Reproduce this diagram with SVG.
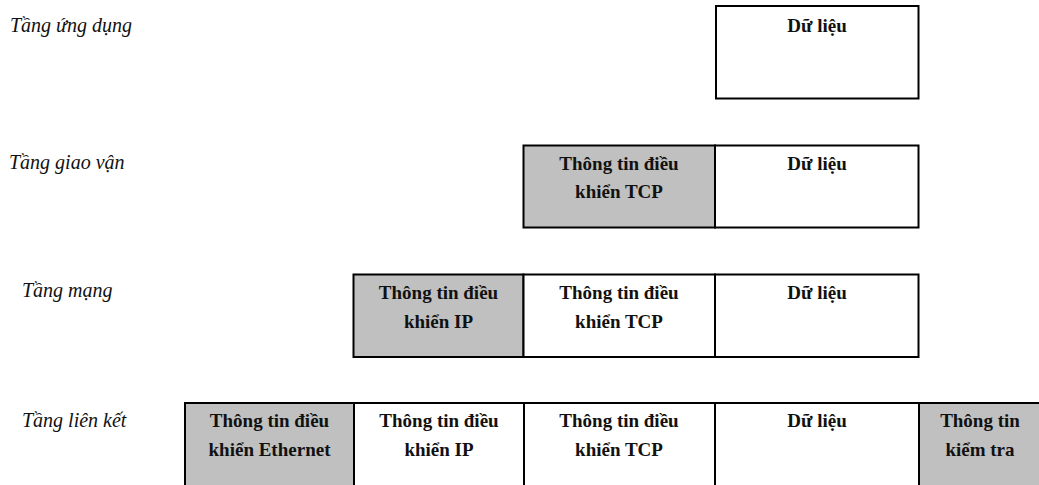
<svg xmlns="http://www.w3.org/2000/svg" width="1039" height="485" viewBox="0 0 1039 485">
  <style>
    text { font-family: 'Liberation Serif', 'DejaVu Serif', serif; }
    .layer { font-style: italic; font-size: 20px; fill: #111; }
    .cell { stroke: #000; stroke-width: 2; }
    .hdr { fill: #c0c0c0; }
    .dat { fill: #fff; }
    .lbl { font-weight: bold; font-size: 19px; fill: #111; text-anchor: middle; }
  </style>
  <rect width="1039" height="485" fill="#fff"/>

  <!-- layer names -->
  <g id="layer-labels">
    <text class="layer" x="10" y="32">Tầng ứng dụng</text>
    <text class="layer" x="9" y="169">Tầng giao vận</text>
    <text class="layer" x="22" y="297">Tầng mạng</text>
    <text class="layer" x="22" y="427">Tầng liên kết</text>
  </g>

  <!-- application layer -->
  <g id="app-data">
    <rect class="cell dat" x="716" y="6" width="202.5" height="92.5"/>
    <text class="lbl" x="817" y="32">Dữ liệu</text>
  </g>

  <!-- transport layer -->
  <g id="tcp-header">
    <rect class="cell hdr" x="523.5" y="145.5" width="191.5" height="82"/>
    <text class="lbl" x="619" y="170">Thông tin điều</text>
    <text class="lbl" x="619" y="198">khiển TCP</text>
  </g>
  <g id="tcp-data">
    <rect class="cell dat" x="715" y="145.5" width="203.5" height="82"/>
    <text class="lbl" x="817" y="170">Dữ liệu</text>
  </g>

  <!-- network layer -->
  <g id="ip-header">
    <rect class="cell hdr" x="353.5" y="274.5" width="170" height="82.5"/>
    <text class="lbl" x="438.5" y="299">Thông tin điều</text>
    <text class="lbl" x="438.5" y="328">khiển IP</text>
  </g>
  <g id="ip-tcp-header">
    <rect class="cell dat" x="523.5" y="274.5" width="191.5" height="82.5"/>
    <text class="lbl" x="619" y="299">Thông tin điều</text>
    <text class="lbl" x="619" y="328">khiển TCP</text>
  </g>
  <g id="ip-data">
    <rect class="cell dat" x="715" y="274.5" width="203.5" height="82.5"/>
    <text class="lbl" x="817" y="299">Dữ liệu</text>
  </g>

  <!-- link layer (frame runs past the bottom edge) -->
  <g id="eth-header">
    <rect class="hdr" x="185" y="403" width="169" height="82"/>
    <text class="lbl" x="269.5" y="427">Thông tin điều</text>
    <text class="lbl" x="269.5" y="456">khiển Ethernet</text>
  </g>
  <g id="eth-ip-header">
    <text class="lbl" x="439" y="427">Thông tin điều</text>
    <text class="lbl" x="439" y="456">khiển IP</text>
  </g>
  <g id="eth-tcp-header">
    <text class="lbl" x="619" y="427">Thông tin điều</text>
    <text class="lbl" x="619" y="456">khiển TCP</text>
  </g>
  <g id="eth-data">
    <text class="lbl" x="817" y="427">Dữ liệu</text>
  </g>
  <g id="eth-trailer">
    <rect class="hdr" x="919" y="403" width="120" height="82"/>
    <text class="lbl" x="980" y="427">Thông tin</text>
    <text class="lbl" x="980" y="456">kiểm tra</text>
  </g>
  <g id="frame-lines" stroke="#000" stroke-width="2" fill="none">
    <line x1="184" y1="403" x2="1039" y2="403"/>
    <line x1="185" y1="402" x2="185" y2="485"/>
    <line x1="354" y1="402" x2="354" y2="485"/>
    <line x1="524" y1="402" x2="524" y2="485"/>
    <line x1="715" y1="402" x2="715" y2="485"/>
    <line x1="919" y1="402" x2="919" y2="485"/>
  </g>
</svg>
